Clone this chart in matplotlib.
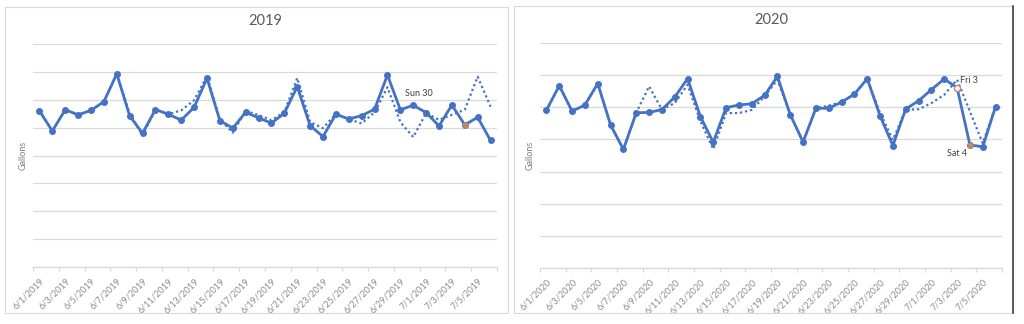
import matplotlib
matplotlib.use("Agg")
import matplotlib.pyplot as plt
from matplotlib.patches import Rectangle

plt.rcParams['font.family'] = ['Lato', 'DejaVu Sans']

# daily categories, 6/1 .. 7/6
days_2019 = ["6/%d/2019" % d for d in range(1, 31)] + ["7/%d/2019" % d for d in range(1, 7)]
days_2020 = ["6/%d/2020" % d for d in range(1, 31)] + ["7/%d/2020" % d for d in range(1, 7)]

# gallons per day (actual, solid)
actual_2019 = [560, 488, 564, 546, 562, 593, 693, 542, 480, 565, 548, 527,
               573, 677, 525, 498, 555, 535, 516, 552, 647, 507, 468, 548,
               531, 543, 566, 689, 564, 580, 554, 506, 581, 510, 537, 454]
# gallons per day (expected, dotted)
expected_2019 = [560, 488, 564, 546, 562, 593, 693, 550, 472, 565, 548, 562,
                 598, 685, 530, 482, 560, 545, 527, 555, 678, 520, 498, 550,
                 530, 515, 555, 645, 520, 466, 552, 528, 546, 564, 683, 575]

actual_2020 = [491, 567, 488, 507, 574, 445, 369, 483, 484, 493, 532, 589,
               471, 391, 499, 507, 511, 537, 596, 477, 392, 497, 497, 516,
               541, 589, 473, 381, 495, 520, 555, 588, 561, 383, 377, 502]
expected_2020 = [491, 567, 488, 507, 574, 445, 369, 483, 565, 493, 513, 570,
                 456, 370, 482, 482, 492, 534, 586, 477, 392, 497, 505, 516,
                 541, 589, 482, 399, 492, 494, 513, 539, 586, 487, 388, 502]

# highlighted days: (day index, label, hollow)
highlights_2019 = [(33, None, False)]
notes_2019 = [(29, "Sun 30")]
highlights_2020 = [(32, "Fri 3", True), (33, "Sat 4", False)]

BLUE = "#4472C4"
ORANGE = "#C8875C"
GRID = "#D9D9D9"
TEXT = "#595959"


def drawPanel(ax, title, days, actual, expected, ymax):
    x = list(range(len(days)))
    ax.plot(x, expected, color=BLUE, lw=1.6, linestyle=(0, (1, 1.3)), zorder=2)
    ax.plot(x, actual, color=BLUE, lw=2.0, marker="o", markersize=4.0, zorder=3)

    ax.set_xlim(-0.5, len(days) - 0.5)
    ax.set_ylim(0, ymax)
    ax.set_yticks(range(0, ymax + 1, 100))
    ax.yaxis.grid(True, color=GRID, lw=0.9)
    ax.set_axisbelow(True)
    ax.tick_params(axis="y", length=0, labelleft=False)

    ax.set_xticks(x[::2])
    ax.set_xticklabels(days[::2], rotation=45, ha="right", rotation_mode="anchor",
                       fontsize=6.6, color="#8C8C8C")
    ax.set_xticks([i - 0.5 for i in range(0, len(days) + 1, 2)], minor=True)
    ax.tick_params(axis="x", which="major", length=0, pad=7)
    ax.tick_params(axis="x", which="minor", length=3, color=GRID, width=0.8)

    for side in ["top", "left", "right"]:
        ax.spines[side].set_visible(False)
    ax.spines["bottom"].set_color(GRID)
    ax.spines["bottom"].set_linewidth(0.9)

    ax.set_title(title, fontsize=10.5, color=TEXT, pad=14)
    ax.set_ylabel("Gallons", fontsize=6.5, color="#7F7F7F")
    ax.yaxis.set_label_coords(-0.011, 0.5)


fig = plt.figure(figsize=(10.24, 3.24), dpi=100)

# panel frames
fig.patches.append(Rectangle((5 / 1024, 1 - 313 / 324), 503 / 1024, 306 / 324,
                             transform=fig.transFigure, fill=False, ec="#D9D9D9", lw=0.8))
fig.patches.append(Rectangle((514 / 1024, 1 - 313 / 324), 499 / 1024, 307 / 324,
                             transform=fig.transFigure, fill=False, ec="#D9D9D9", lw=0.8))
fig.add_artist(plt.Line2D([1013 / 1024, 1013 / 1024], [1 - 313 / 324, 1 - 6 / 324],
                          transform=fig.transFigure, color="#404040", lw=1.2))

ax1 = fig.add_axes([33 / 1024, 1 - 267 / 324, 464 / 1024, 223 / 324])
drawPanel(ax1, "2019", days_2019, actual_2019, expected_2019, 800)
for i, label, hollow in highlights_2019:
    ax1.plot(i, actual_2019[i], "o", color=ORANGE, markersize=3.6, zorder=4)
for i, label in notes_2019:
    ax1.annotate(label, (i, actual_2019[i]), xytext=(4, 5), textcoords="offset points",
                 ha="center", va="bottom", fontsize=6.5, color="#404040")

ax2 = fig.add_axes([540 / 1024, 1 - 268 / 324, 462 / 1024, 225 / 324])
drawPanel(ax2, "2020", days_2020, actual_2020, expected_2020, 700)
for i, label, hollow in highlights_2020:
    if hollow:
        ax2.plot(i, actual_2020[i], "o", mfc="white", mec=ORANGE, markersize=4.4, zorder=4)
        ax2.annotate(label, (i, actual_2020[i]), xytext=(2, 2), textcoords="offset points",
                     ha="left", va="bottom", fontsize=6.5, color="#404040")
    else:
        ax2.plot(i, actual_2020[i], "o", color=ORANGE, markersize=3.4, zorder=4)
        ax2.annotate(label, (i, actual_2020[i]), xytext=(-2, -3), textcoords="offset points",
                     ha="right", va="top", fontsize=6.5, color="#404040")

fig.savefig("out.png", dpi=100)
